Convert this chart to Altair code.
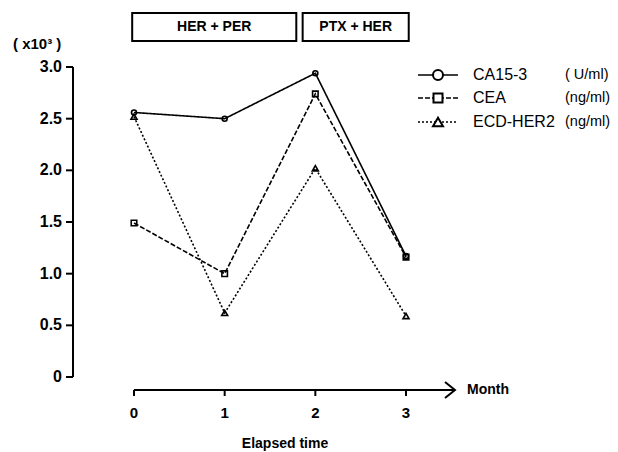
import altair as alt
import pandas as pd

# ---- data ----
months = [0, 1, 2, 3]
series = ["CA15-3", "CEA", "ECD-HER2"]
units = ["( U/ml)", "(ng/ml)", "(ng/ml)"]
ca153 = [2.56, 2.50, 2.94, 1.17]
cea = [1.49, 1.00, 2.74, 1.16]
ecd_her2 = [2.52, 0.62, 2.02, 0.59]
y_ticks = [0, 0.5, 1.0, 1.5, 2.0, 2.5, 3.0]
y_tick_labels = ["0", "0.5", "1.0", "1.5", "2.0", "2.5", "3.0"]
x_ticks = [0, 1, 2, 3]
x_tick_labels = ["0", "1", "2", "3"]
treatments = ["HER + PER", "PTX + HER"]
treat_start = [-0.02, 1.86]
treat_end = [1.79, 3.03]

# ---- layout / style ----
W, H = 602, 444
X0_PX, X_UNIT = 126, 90.67
Y0_PX, Y_UNIT = 369, 103.33
FONT = "Liberation Sans"
dashes = [[1, 0], [5, 2], [2, 2]]
shapes = ["circle", "square", "triangle-up"]
plot_sizes = [25, 36, 49]
legend_sizes = [100, 81, 100]

xs = alt.Scale(domain=[-X0_PX / X_UNIT, (W - X0_PX) / X_UNIT], nice=False, zero=False)
ys = alt.Scale(domain=[(Y0_PX - H) / Y_UNIT, Y0_PX / Y_UNIT], nice=False, zero=False)


def X(f):
    return alt.X(f, scale=xs, axis=None)


def Y(f):
    return alt.Y(f, scale=ys, axis=None)


rows = []
for s, vals in zip(series, [ca153, cea, ecd_her2]):
    for m, v in zip(months, vals):
        rows.append({"series": s, "month": m, "value": v})
df = pd.DataFrame(rows)
dummy = pd.DataFrame({"d": [0]})

layers = []

# data lines
layers.append(
    alt.Chart(df).mark_line(color="black", strokeWidth=1.6).encode(
        x=X("month:Q"), y=Y("value:Q"), detail="series:N",
        strokeDash=alt.StrokeDash("series:N", scale=alt.Scale(domain=series, range=dashes), legend=None),
    )
)
# data markers
layers.append(
    alt.Chart(df).mark_point(filled=False, color="black", strokeWidth=1.6, opacity=1).encode(
        x=X("month:Q"), y=Y("value:Q"),
        shape=alt.Shape("series:N", scale=alt.Scale(domain=series, range=shapes), legend=None),
        size=alt.Size("series:O", scale=alt.Scale(domain=series, range=plot_sizes), legend=None),
    )
)

# y axis
layers.append(
    alt.Chart(pd.DataFrame({"y0": [y_ticks[0]], "y1": [y_ticks[-1]]})).mark_rule(color="black", strokeWidth=2).encode(
        x=alt.value(65), y=Y("y0:Q"), y2="y1:Q"
    )
)
ytick_df = pd.DataFrame({"v": y_ticks, "label": y_tick_labels})
layers.append(
    alt.Chart(ytick_df).mark_rule(color="black", strokeWidth=2).encode(
        x=alt.value(58), x2=alt.value(65), y=Y("v:Q")
    )
)
layers.append(
    alt.Chart(ytick_df).mark_text(align="right", baseline="middle", font=FONT, fontSize=16, fontWeight="bold", color="black").encode(
        x=alt.value(54), y=Y("v:Q"), text="label:N"
    )
)
layers.append(
    alt.Chart(dummy).mark_text(align="left", baseline="middle", font=FONT, fontSize=15, fontWeight="bold", color="black").encode(
        x=alt.value(5), y=alt.value(36), text=alt.value("( x10³ )")
    )
)

# x axis
layers.append(
    alt.Chart(pd.DataFrame({"x0": [x_ticks[0]]})).mark_rule(color="black", strokeWidth=2).encode(
        x=X("x0:Q"), x2=alt.value(447), y=alt.value(382)
    )
)
xtick_df = pd.DataFrame({"m": x_ticks, "label": x_tick_labels})
layers.append(
    alt.Chart(xtick_df).mark_rule(color="black", strokeWidth=2).encode(
        x=X("m:Q"), y=alt.value(382), y2=alt.value(388)
    )
)
layers.append(
    alt.Chart(xtick_df).mark_text(align="center", baseline="middle", font=FONT, fontSize=15, fontWeight="bold", color="black").encode(
        x=X("m:Q"), y=alt.value(405), text="label:N"
    )
)
layers.append(
    alt.Chart(dummy).mark_point(shape="M -1.25 -1 L 0 0 L -1.25 1", filled=False, color="black", strokeWidth=2, size=256, opacity=1).encode(
        x=alt.value(447), y=alt.value(382)
    )
)
layers.append(
    alt.Chart(dummy).mark_text(align="left", baseline="middle", font=FONT, fontSize=14, fontWeight="bold", color="black").encode(
        x=alt.value(459), y=alt.value(382), text=alt.value("Month")
    )
)
layers.append(
    alt.Chart(dummy).mark_text(align="center", baseline="middle", font=FONT, fontSize=14, fontWeight="bold", color="black").encode(
        x=alt.value(277), y=alt.value(436), text=alt.value("Elapsed time")
    )
)

# treatment boxes
tdf = pd.DataFrame({"name": treatments, "start": treat_start, "end": treat_end})
layers.append(
    alt.Chart(tdf).mark_rect(fill="white", stroke="black", strokeWidth=2).encode(
        x=X("start:Q"), x2="end:Q", y=alt.value(5), y2=alt.value(33)
    )
)
layers.append(
    alt.Chart(tdf).transform_calculate(mid="(datum.start + datum.end) / 2").mark_text(
        align="center", baseline="middle", font=FONT, fontSize=14, fontWeight="bold", color="black"
    ).encode(x=X("mid:Q"), y=alt.value(19), text="name:N")
)

# legend
legend_y = [67, 90, 114]
for i, s in enumerate(series):
    ly = legend_y[i]
    layers.append(
        alt.Chart(dummy).mark_rule(color="black", strokeWidth=1.6, strokeDash=dashes[i]).encode(
            x=alt.value(410), x2=alt.value(450), y=alt.value(ly)
        )
    )
    layers.append(
        alt.Chart(dummy).mark_point(shape=shapes[i], filled=True, fill="white", stroke="black", strokeWidth=2, size=legend_sizes[i], opacity=1).encode(
            x=alt.value(430), y=alt.value(ly)
        )
    )
    layers.append(
        alt.Chart(dummy).mark_text(align="left", baseline="middle", font=FONT, fontSize=16, color="black").encode(
            x=alt.value(465), y=alt.value(ly), text=alt.value(s)
        )
    )
    layers.append(
        alt.Chart(dummy).mark_text(align="left", baseline="middle", font=FONT, fontSize=14.5, color="black").encode(
            x=alt.value(557), y=alt.value(ly), text=alt.value(units[i])
        )
    )

chart = alt.layer(*layers).properties(
    width=W, height=H, padding=0, autosize="none", background="white"
).configure_view(stroke=None)

chart.save("out.html", embed_options={"renderer": "svg", "actions": False})
